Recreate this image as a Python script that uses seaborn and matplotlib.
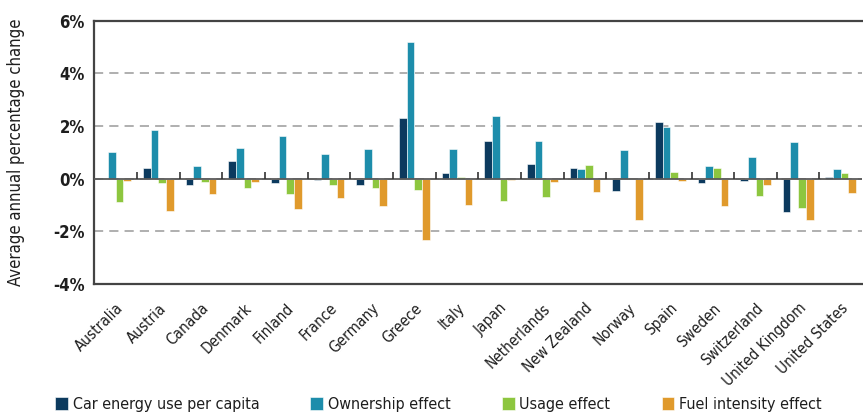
import matplotlib
matplotlib.use("Agg")
import matplotlib.pyplot as plt
import seaborn as sns
import pandas as pd

# values (% per year)
countries = ["Australia", "Austria", "Canada", "Denmark", "Finland", "France",
             "Germany", "Greece", "Italy", "Japan", "Netherlands", "New Zealand",
             "Norway", "Spain", "Sweden", "Switzerland", "United Kingdom",
             "United States"]
car_energy = [0.00, 0.42, -0.22, 0.69, -0.15, -0.05, -0.25, 2.31, 0.22, 1.43,
              0.57, 0.41, -0.47, 2.17, -0.17, -0.10, -1.27, 0.05]
ownership = [1.02, 1.85, 0.48, 1.18, 1.63, 0.93, 1.13, 5.18, 1.14, 2.39,
             1.42, 0.37, 1.08, 1.98, 0.47, 0.81, 1.41, 0.38]
usage = [-0.90, -0.15, -0.11, -0.37, -0.58, -0.22, -0.37, -0.42, 0.06, -0.86,
         -0.71, 0.52, 0.00, 0.27, 0.39, -0.66, -1.13, 0.22]
fuel = [-0.08, -1.24, -0.58, -0.11, -1.14, -0.75, -1.02, -2.32, -0.98, -0.06,
        -0.11, -0.51, -1.56, -0.08, -1.02, -0.24, -1.55, -0.55]

series_names = ["Car energy use per capita", "Ownership effect",
                "Usage effect", "Fuel intensity effect"]
colors = ["#0c3a5e", "#1d8dab", "#8dc63f", "#e09a2c"]

df = pd.DataFrame({
    "country": countries * 4,
    "value": car_energy + ownership + usage + fuel,
    "series": [s for s in series_names for _ in countries],
})

sns.set_style("white")
plt.rcParams["font.family"] = ["DejaVu Sans"]
plt.rcParams["font.stretch"] = "condensed"

fig = plt.figure(figsize=(8.63, 4.17), dpi=100)
ax = fig.add_axes([0.1095, 0.319, 0.8895, 0.631])

sns.barplot(data=df, x="country", y="value", hue="series",
            hue_order=series_names, palette=colors, width=0.72,
            saturation=1, edgecolor="white", linewidth=0.4, ax=ax)

ax.set_ylim(-4, 6)
ax.set_xlim(-0.5, len(countries) - 0.5)
ax.set_yticks([-4, -2, 0, 2, 4, 6])
ax.set_yticklabels(["-4%", "-2%", "0%", "2%", "4%", "6%"])
ax.grid(axis="y", linestyle=(0, (6, 4)), color="#9a9a9a", linewidth=1.1)
ax.set_axisbelow(True)
ax.axhline(0, color="#5a5a5a", linewidth=1.3, zorder=3)

# small separator ticks on the zero line between country groups
ax.vlines([i + 0.5 for i in range(len(countries) - 1)], 0, 0.25,
          color="#333333", linewidth=1.2, zorder=3)

for side in ["top", "left", "bottom"]:
    ax.spines[side].set_color("#444444")
    ax.spines[side].set_linewidth(1.6)
ax.spines["right"].set_visible(False)

ax.tick_params(axis="x", length=0, pad=12)
ax.tick_params(axis="y", length=0, pad=7)
ax.set_xticks(range(len(countries)))
ax.set_xticklabels(countries, rotation=45, ha="right", rotation_mode="anchor",
                   fontsize=11, color="#1e1e1e")
for lab in ax.get_yticklabels():
    lab.set_fontsize(12)
    lab.set_color("#1e1e1e")
    lab.set_fontweight("semibold")

ax.set_xlabel("")
ax.set_ylabel("Average annual percentage change", fontsize=12,
              color="#1e1e1e", labelpad=20)

handles, labels = ax.get_legend_handles_labels()
ax.get_legend().remove()
fig.legend(handles, labels, loc="center", bbox_to_anchor=(0.508, 0.03),
           ncol=4, frameon=False, fontsize=11.5, handlelength=0.8,
           handleheight=0.9, handletextpad=0.3, columnspacing=3.2,
           labelcolor="#1e1e1e")

fig.savefig("out.png", dpi=100)
